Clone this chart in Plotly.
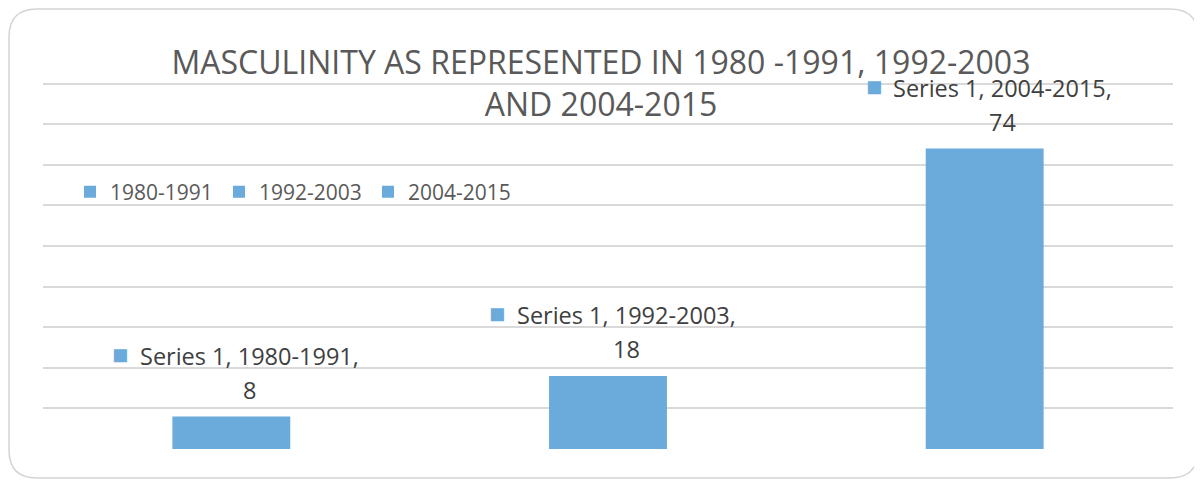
import plotly.graph_objects as go

categories = ["1980-1991", "1992-2003", "2004-2015"]
values = [8, 18, 74]
series_name = "Series 1"
title_text = "MASCULINITY AS REPRESENTED IN 1980 -1991, 1992-2003<br>AND 2004-2015"

BAR_COLOR = "#6aabdb"
GRID_COLOR = "#d9d9d9"
FONT = "Open Sans"

# the page body adds an 8px margin; the figure is sized to fit the window
OFF = 8
W, H = 1202 - OFF, 481 - OFF
L, R, T, B = 43 - OFF, 29, 43 - OFF, 32


def px(x):
    return (x - OFF - L) / (W - L - R)


def py(y):
    return (H - B - (y - OFF)) / (H - T - B)


fig = go.Figure()
for cat, val in zip(categories, values):
    fig.add_trace(go.Bar(x=[cat], y=[val], name=cat, marker_color=BAR_COLOR,
                         marker_line_width=0, width=0.313, showlegend=True))

annotations = []
for cat, val in zip(categories, values):
    annotations.append(dict(
        x=cat, y=val, xref="x", yref="y", text=f"{series_name}, {cat},",
        showarrow=False, xanchor="center", yanchor="middle", xshift=18, yshift=61,
        font=dict(family=FONT, size=23.5, color="#404040")))
    annotations.append(dict(
        x=cat, y=val, xref="x", yref="y", text=f"{val}",
        showarrow=False, xanchor="center", yanchor="middle", xshift=18, yshift=27,
        font=dict(family=FONT, size=23.5, color="#404040")))
    annotations.append(dict(
        x=cat, y=val, xref="x", yref="y", text="■",
        showarrow=False, xanchor="center", yanchor="middle", xshift=-111, yshift=63,
        font=dict(family=FONT, size=27, color=BAR_COLOR)))

# rounded frame
x0, y0, x1, y1, r = 9, 9, 1198, 478, 28
path = (f"M {px(x0 + r)},{py(y0)} L {px(x1 - r)},{py(y0)} "
        f"Q {px(x1)},{py(y0)} {px(x1)},{py(y0 + r)} L {px(x1)},{py(y1 - r)} "
        f"Q {px(x1)},{py(y1)} {px(x1 - r)},{py(y1)} L {px(x0 + r)},{py(y1)} "
        f"Q {px(x0)},{py(y1)} {px(x0)},{py(y1 - r)} L {px(x0)},{py(y0 + r)} "
        f"Q {px(x0)},{py(y0)} {px(x0 + r)},{py(y0)} Z")

fig.update_layout(
    width=W, height=H,
    margin=dict(l=L, r=R, t=T, b=B),
    paper_bgcolor="white", plot_bgcolor="white",
    barmode="overlay",
    title=dict(text=title_text, x=(601 - OFF) / W, xref="container", xanchor="center",
               y=1 - 66 / H, yanchor="middle",
               font=dict(family=FONT, size=32, color="#595959")),
    xaxis=dict(categoryorder="array", categoryarray=categories, range=[-0.5, 2.5],
               showticklabels=False, showgrid=False, zeroline=False, showline=False,
               ticks=""),
    yaxis=dict(range=[0, 100], dtick=10, showticklabels=False, showgrid=True,
               gridcolor=GRID_COLOR, gridwidth=1.5, zeroline=False, showline=False,
               ticks=""),
    legend=dict(orientation="h", x=px(70), y=py(192), xanchor="left", yanchor="middle",
                font=dict(family=FONT, size=21, color="#595959"),
                bgcolor="rgba(0,0,0,0)", itemwidth=30, entrywidth=104,
                entrywidthmode="pixels", traceorder="normal"),
    annotations=annotations,
    shapes=[dict(type="path", path=path, xref="paper", yref="paper",
                 line=dict(color="#d4d4d4", width=1.5), layer="below")],
    showlegend=True,
)

fig.write_html("out.html")
